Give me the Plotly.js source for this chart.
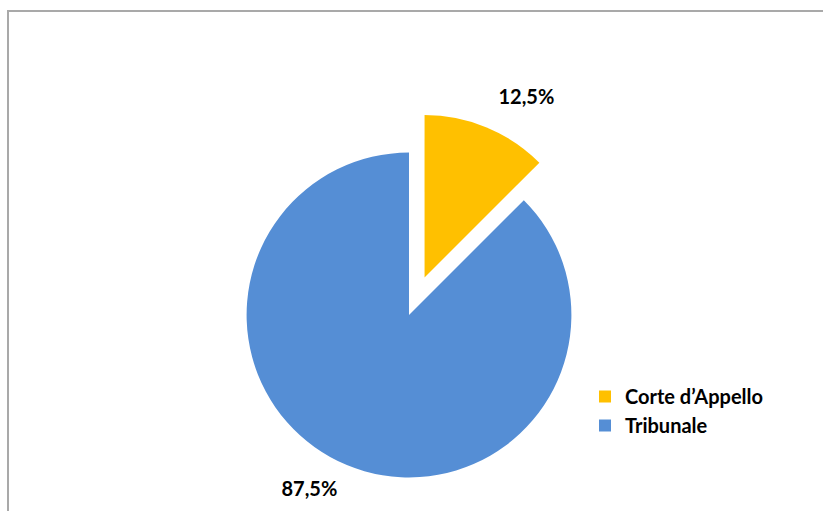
<!DOCTYPE html>
<html>
<head>
<meta charset="utf-8">
<script src="https://cdn.plot.ly/plotly-3.0.1.min.js"></script>
<style>
html, body { margin: 0; padding: 0; overflow: hidden; width: 823px; height: 511px; background: #fff; }
#frame { position: absolute; left: 7px; top: 10px; width: 900px; height: 700px; border-top: 2px solid #a9a9a9; border-left: 2px solid #a9a9a9; }
#chart { position: absolute; left: 0; top: 0; width: 823px; height: 640px; }
</style>
</head>
<body>
<div id="frame"></div>
<div id="chart"></div>
<script>
const categories = ["Corte d\u2019Appello", "Tribunale"];
const values = [12.5, 87.5];
const colors = ["#FFC000", "#558ED5"];
const pulls = [0.25, 0];

const W = 823, H = 640;
const cx = 409, cy = 315, S = 406;

const padA = "<span style='font-size:3px'> </span>";
const padB = "<span style='font-size:8px'> </span>";
const trace = {
  type: "pie",
  labels: categories,
  values: values,
  pull: pulls,
  sort: false,
  direction: "clockwise",
  rotation: 0,
  marker: { colors: colors, line: { width: 0 } },
  textinfo: "percent",
  texttemplate: ["%{percent:.1%}<br>" + padA, padB + "<br>%{percent:.1%}"],
  textposition: "outside",
  textfont: { family: "Lato, 'Open Sans', sans-serif", size: 20, weight: "bold", color: "#000" },
  hoverinfo: "label+percent",
  domain: {
    x: [(cx - S / 2) / W, (cx + S / 2) / W],
    y: [1 - (cy + S / 2) / H, 1 - (cy - S / 2) / H]
  }
};

const layout = {
  width: W,
  height: H,
  margin: { l: 0, r: 0, t: 0, b: 0 },
  paper_bgcolor: "rgba(0,0,0,0)",
  plot_bgcolor: "rgba(0,0,0,0)",
  separators: ",.",
  showlegend: true,
  legend: {
    x: 585 / W,
    xanchor: "left",
    y: 1 - 377 / H,
    yanchor: "top",
    font: { family: "Lato, 'Open Sans', sans-serif", size: 20, weight: "bold", color: "#000" },
    bgcolor: "rgba(0,0,0,0)",
    traceorder: "normal"
  }
};

Plotly.newPlot("chart", [trace], layout, { displayModeBar: false, staticPlot: true });
</script>
</body>
</html>
